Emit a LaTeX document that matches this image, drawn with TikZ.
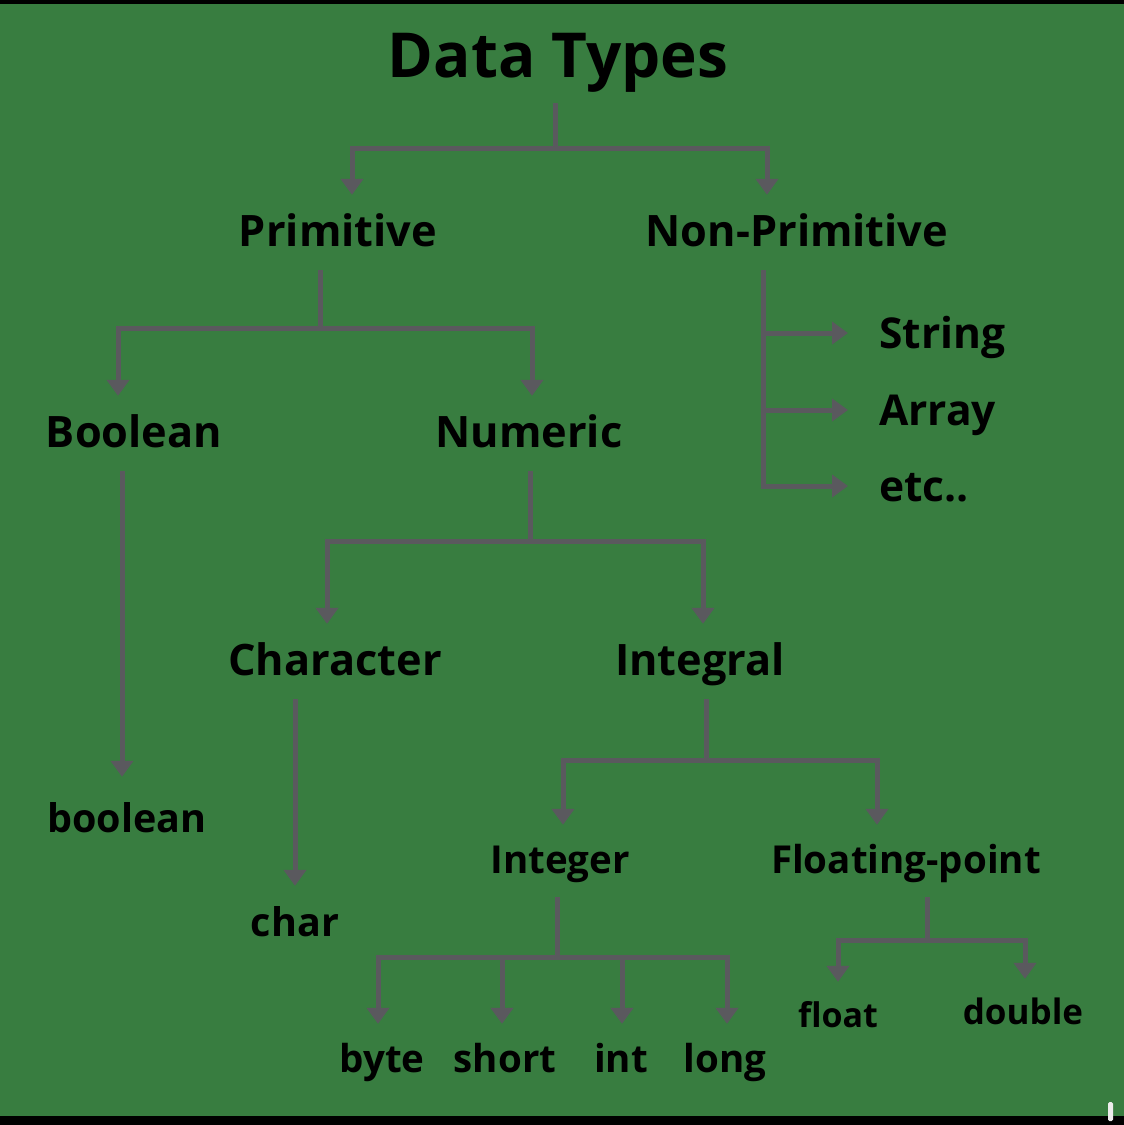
\documentclass[tikz,border=0pt]{standalone}
\usepackage{fontspec}
\setmainfont{Open Sans}
\usetikzlibrary{arrows.meta, positioning, calc}
\definecolor{bggreen}{RGB}{56,125,64}
\definecolor{linegray}{RGB}{90,89,94}

\begin{document}
\begin{tikzpicture}[
    x=1pt, y=-1pt,
    every node/.style={inner sep=0pt, anchor=base},
    toplbl/.style={font=\fontsize{62}{62}\selectfont\bfseries, text depth=26pt},
    biglbl/.style={font=\fontsize{43.3}{44}\selectfont\bfseries, text height=51pt, text depth=24pt},
    midlbl/.style={font=\fontsize{38.5}{39}\selectfont\bfseries, text height=48pt, text depth=24pt},
    smalllbl/.style={font=\fontsize{34}{35}\selectfont\bfseries, text height=45pt, text depth=10pt},
    itemlbl/.style={font=\fontsize{42.5}{44}\selectfont\bfseries, anchor=west, text height=31pt, text depth=0pt},
    conn/.style={draw=linegray, line width=5pt},
    arrow/.style={conn, -{Triangle[width=22pt,length=16pt]}}
]
% fundal
\fill[bggreen] (0,0) rectangle (1124,1125);
\fill[black] (0,0) rectangle (1124,4);
\fill[black] (0,1116) rectangle (1124,1125);
\fill[white!85!gray, rounded corners=1.5pt] (1108,1102) rectangle (1113,1121);
% noduri
\node[toplbl] (dt) at (558,77) {Data Types};
\node[biglbl] (prim) at (338,246) {Primitive};
\node[biglbl] (nonprim) at (797,246) {Non-Primitive};
\node[itemlbl] (str) at (879,333) {String};
\node[itemlbl] (arr) at (879,410) {Array};
\node[itemlbl] (etc) at (879,486) {etc..};
\node[biglbl] (bool) at (134,447) {Boolean};
\node[biglbl] (num) at (529,447) {Numeric};
\node[biglbl] (chr) at (335,675) {Character};
\node[biglbl] (integral) at (700,675) {Integral};
\node[midlbl, font=\fontsize{39.5}{40}\selectfont\bfseries, text height=55pt] (boolt) at (127,832) {boolean};
\node[midlbl, font=\fontsize{39.5}{40}\selectfont\bfseries, text height=50pt] (chrt) at (295,936) {char};
\node[midlbl] (integer) at (560,873) {Integer};
\node[midlbl] (flp) at (906,873) {Floating-point};
\node[midlbl] (byte) at (382,1072) {byte};
\node[midlbl] (short) at (505,1072) {short};
\node[midlbl] (int) at (621,1072) {int};
\node[midlbl] (long) at (725,1072) {long};
\node[smalllbl] (float) at (838,1027) {float};
\node[smalllbl, font=\fontsize{35}{35}\selectfont\bfseries] (double) at (1023,1024) {double};
% ramificatii
\coordinate (b1) at (555,148);
\coordinate (b2) at (320,328);
\coordinate (b3) at (763,300);
\coordinate (b4) at (530,541);
\coordinate (b5) at (706,760);
\coordinate (b6) at (557,957);
\coordinate (b7) at (927,940);
% sageti
\draw[conn] (dt.south -| b1) -- (b1);
\draw[arrow] (b1) -| ([xshift=14pt]prim.north);
\draw[arrow] (b1) -| ([xshift=-30pt]nonprim.north);
\draw[conn] (prim.south -| b2) -- (b2);
\draw[arrow] (b2) -| ([xshift=-16pt]bool.north);
\draw[arrow] (b2) -| ([xshift=3pt]num.north);
\draw[arrow] (nonprim.south -| b3) |- ([xshift=-31pt]etc.west);
\draw[arrow] (b3 |- str.west) -- ([xshift=-31pt]str.west);
\draw[arrow] (b3 |- arr.west) -- ([xshift=-31pt]arr.west);
\draw[arrow] ([xshift=-12pt]bool.south) -- ([xshift=-12pt]bool.south |- boolt.north);
\draw[conn] (num.south -| b4) -- (b4);
\draw[arrow] (b4) -| ([xshift=-8pt]chr.north);
\draw[arrow] (b4) -| ([xshift=3pt]integral.north);
\draw[arrow] (chr.south -| chrt.north) -- (chrt.north);
\draw[conn] (integral.south -| b5) -- (b5);
\draw[arrow] (b5) -| ([xshift=3pt]integer.north);
\draw[arrow] (b5) -| ([xshift=-29pt]flp.north);
\draw[conn] (integer.south -| b6) -- (b6);
\draw[arrow] (b6) -| ([xshift=-4pt]byte.north);
\draw[arrow] (b6) -| ([xshift=-3pt]short.north);
\draw[arrow] (b6) -| ([xshift=1pt]int.north);
\draw[arrow] (b6) -| ([xshift=2pt]long.north);
\draw[conn] (flp.south -| b7) -- (b7);
\draw[arrow] (b7) -| (float.north);
\draw[arrow] (b7) -| ([xshift=2pt]double.north);
\end{tikzpicture}
\end{document}
